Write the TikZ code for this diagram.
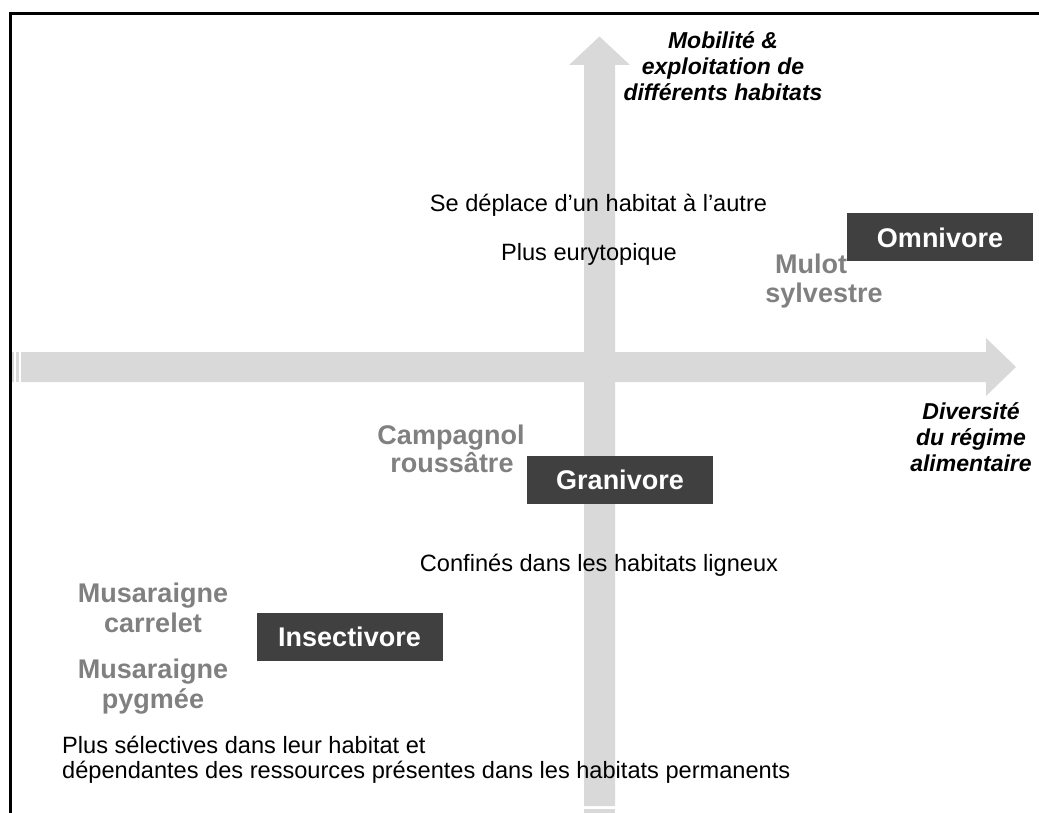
\documentclass[tikz,border=0pt]{standalone}
\usepackage{fontspec}
\setmainfont{Liberation Sans}
\definecolor{arrowgray}{HTML}{D9D9D9}
\definecolor{boxdark}{HTML}{404040}
\definecolor{labgray}{HTML}{808080}
\begin{document}
\begin{tikzpicture}[x=1pt,y=-1pt,
  txt/.style={font=\fontsize{23.6}{26}\selectfont, inner sep=0pt, text height=16.9pt, text depth=0pt},
  axlab/.style={font=\fontsize{23}{26}\selectfont\bfseries\itshape, inner sep=0pt, text height=16.5pt, text depth=0pt},
  species/.style={font=\fontsize{27}{30}\selectfont\bfseries, text=labgray, inner sep=0pt, text height=19.3pt, text depth=0pt},
  dietbox/.style={fill=boxdark, text=white, font=\fontsize{27}{30}\selectfont\bfseries, inner sep=0pt, text height=19.3pt, text depth=0pt, minimum width=186pt, minimum height=48pt},
  axisfill/.style={fill=arrowgray}]
\useasboundingbox (0,0) rectangle (1039,813);
% frame
\draw[gray!60, line width=1pt] (11.7,15) -- (1039,15);
\draw[line width=2.7pt] (10.3,813) -- (10.3,13.3) -- (1039,13.3);
% vertical axis arrow
\fill[axisfill] (584,806) -- (584,65) -- (569,65) -- (599.5,36.5) -- (630,65) -- (615,65) -- (615,806) -- cycle;
\fill[axisfill] (584,809) rectangle (615,813);
% horizontal axis arrow
\fill[axisfill] (21,352) -- (986,352) -- (986,338) -- (1016,367) -- (986,396) -- (986,382) -- (21,382) -- cycle;
\fill[axisfill] (12,352) rectangle (14,382);
\fill[axisfill] (15.7,352) rectangle (19,382);
% axis labels
\node[axlab] (mob1) at (723,40.5) {Mobilité \&};
\node[axlab] (mob2) at (723,66) {exploitation de};
\node[axlab] (mob3) at (723,92.5) {différents habitats};
\node[axlab] (div1) at (971,411) {Diversité};
\node[axlab] (div2) at (971,437) {du régime};
\node[axlab] (div3) at (971,463) {alimentaire};
% descriptive texts
\node[txt] (dep) at (598.5,203.5) {Se déplace d’un habitat à l’autre};
\node[txt] (eury) at (589,252) {Plus eurytopique};
\node[txt] (conf) at (599,563) {Confinés dans les habitats ligneux};
\node[txt, anchor=west] (sel1) at (62,745) {Plus sélectives dans leur habitat et};
\node[txt, anchor=west] (sel2) at (62,770) {dépendantes des ressources présentes dans les habitats permanents};
% diet boxes
\node[dietbox] (omni) at (940,237.5) {Omnivore};
\node[dietbox] (grani) at (620,480) {Granivore};
\node[dietbox] (insect) at (349.5,637) {Insectivore};
% species
\node[species] (mul1) at (811,264) {Mulot};
\node[species] (mul2) at (824,293) {sylvestre};
\node[species] (camp1) at (451,435) {Campagnol};
\node[species] (camp2) at (452,463) {roussâtre};
\node[species] (mus1) at (153,593) {Musaraigne};
\node[species] (mus2) at (153,623) {carrelet};
\node[species] (mus3) at (153,669) {Musaraigne};
\node[species] (mus4) at (153,699) {pygmée};
\end{tikzpicture}
\end{document}
